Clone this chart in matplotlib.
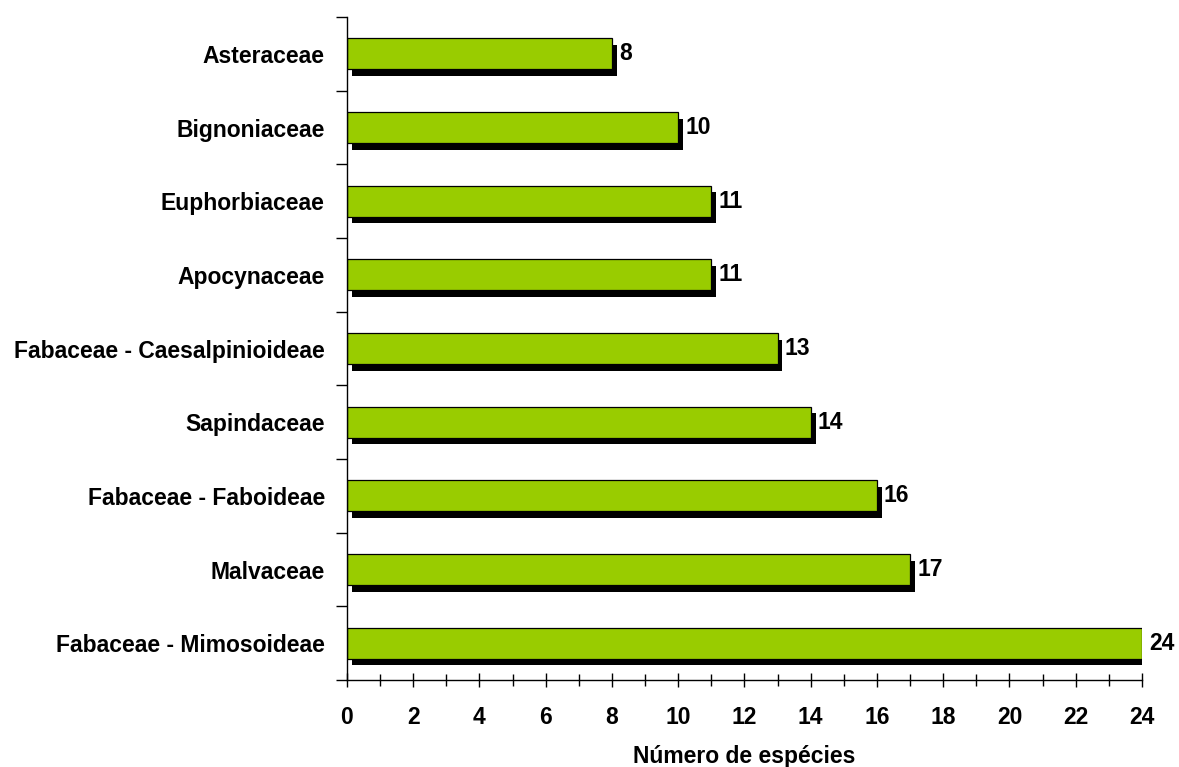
# Número de espécies por família (barras horizontais com sombra)
import matplotlib.pyplot as plt
import matplotlib.patheffects as pe
from matplotlib.ticker import MultipleLocator, FixedLocator

families = ['Fabaceae - Mimosoideae', 'Malvaceae', 'Fabaceae - Faboideae', 'Sapindaceae',
            'Fabaceae - Caesalpinioideae', 'Apocynaceae', 'Euphorbiaceae', 'Bignoniaceae',
            'Asteraceae']
counts = [24, 17, 16, 14, 13, 11, 11, 10, 8]
x_ticks = [0, 2, 4, 6, 8, 10, 12, 14, 16, 18, 20, 22, 24]

plt.rcParams['font.family'] = ['Liberation Sans', 'DejaVu Sans']
plt.rcParams['font.weight'] = 'bold'

FS = 16.5

def create():
    fig = plt.figure(figsize=(11.79, 7.67), dpi=100)
    ax = fig.add_axes([0.2943, 0.1134, 0.6743, 0.8644])

    pos = list(range(len(families)))
    shadow = [pe.SimplePatchShadow(offset=(3.5, -4.8), shadow_rgbFace='black', alpha=1.0), pe.Normal()]
    bars = ax.barh(pos, counts, height=0.42, color='#99CC00', edgecolor='black', linewidth=0.9)
    for b in bars:
        b.set_path_effects(shadow)

    for p, c in zip(pos, counts):
        ax.annotate(str(c), (c, p), xytext=(5, 0), textcoords='offset points',
                    ha='left', va='center', fontsize=FS, fontweight='bold')

    ax.set_xlim(0, 24)
    ax.set_ylim(-0.5, len(families) - 0.5)
    ax.set_xticks(x_ticks)
    ax.xaxis.set_minor_locator(MultipleLocator(1))
    ax.tick_params(axis='x', which='major', direction='inout', length=10, width=1, labelsize=FS, pad=14)
    ax.tick_params(axis='x', which='minor', direction='inout', length=8, width=1)

    ax.set_yticks(pos)
    ax.set_yticklabels(families)
    ax.yaxis.set_minor_locator(FixedLocator([p - 0.5 for p in pos] + [len(families) - 0.5]))
    ax.tick_params(axis='y', which='major', length=0, labelsize=FS, pad=16)
    ax.tick_params(axis='y', which='minor', direction='out', length=8, width=1)

    ax.spines['top'].set_visible(False)
    ax.spines['right'].set_visible(False)
    ax.spines['left'].set_linewidth(1)
    ax.spines['bottom'].set_linewidth(1)

    ax.set_xlabel('Número de espécies', fontsize=FS, fontweight='bold', labelpad=11)

    fig.savefig('out.png', dpi=100)


if __name__ == "__main__":
    create()
